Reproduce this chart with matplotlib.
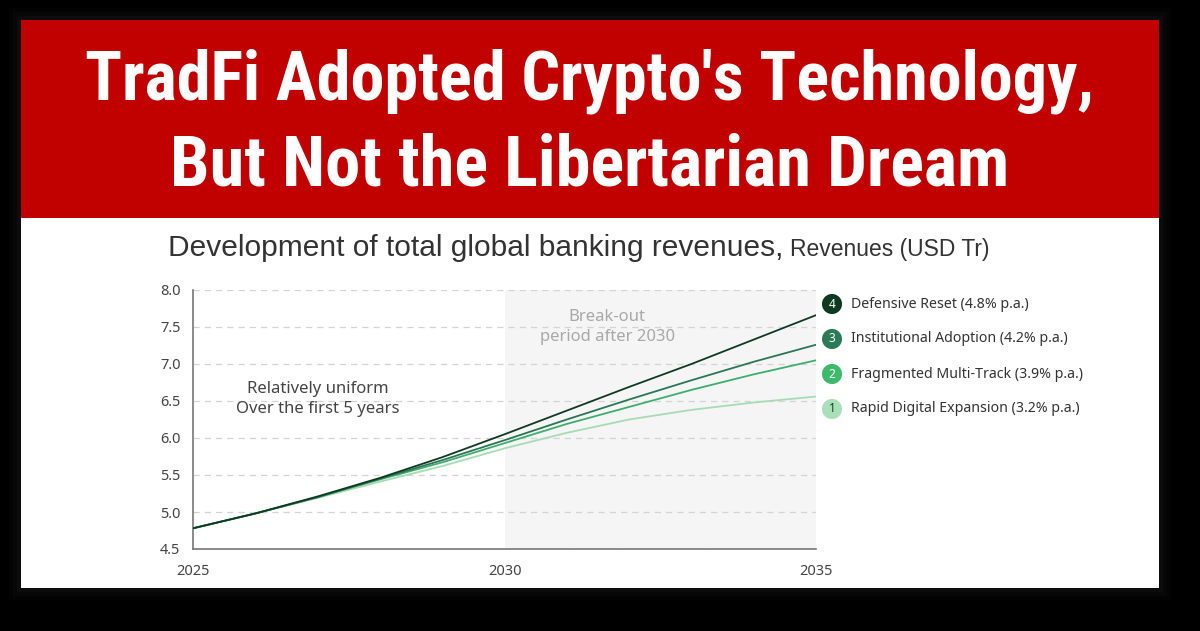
import matplotlib
matplotlib.use("Agg")
import matplotlib.pyplot as plt
from matplotlib.patches import Rectangle
from matplotlib import font_manager

# Years and revenue scenarios (USD Tr)
years = list(range(2025, 2036))
defensive_reset = [4.78, 4.98, 5.21, 5.46, 5.74, 6.05, 6.37, 6.69, 7.00, 7.33, 7.66]
institutional = [4.78, 4.98, 5.20, 5.45, 5.70, 5.97, 6.25, 6.52, 6.78, 7.03, 7.26]
fragmented = [4.78, 4.98, 5.20, 5.44, 5.67, 5.93, 6.19, 6.42, 6.65, 6.86, 7.05]
rapid_digital = [4.78, 4.98, 5.19, 5.41, 5.62, 5.86, 6.07, 6.25, 6.38, 6.48, 6.56]

series = [defensive_reset, institutional, fragmented, rapid_digital]
labels = ["Defensive Reset (4.8% p.a.)", "Institutional Adoption (4.2% p.a.)",
          "Fragmented Multi-Track (3.9% p.a.)", "Rapid Digital Expansion (3.2% p.a.)"]
badges = ["4", "3", "2", "1"]
colors = ["#0f3a22", "#2b7657", "#3fae6c", "#a6dcb3"]
badge_fc = ["#0f3a22", "#2b7a58", "#3cb96b", "#a9e0b7"]
badge_tc = ["white", "white", "white", "#1d3b2a"]

yticks = [4.5, 5.0, 5.5, 6.0, 6.5, 7.0, 7.5, 8.0]
xticks = [2025, 2030, 2035]

W, H = 1200, 631
fig = plt.figure(figsize=(12, 6.31), dpi=100, facecolor="black")


def fx(px):
    return px / W


def fy(py):
    return (H - py) / H


# soft glow around the card
for i, a in enumerate([0.025, 0.035, 0.045]):
    g = 12 - i * 4
    fig.add_artist(Rectangle((fx(21 - g), fy(588 + g)), fx(1138 + 2 * g), (568 + 2 * g) / H,
                             transform=fig.transFigure, fc="#888888", ec="none", alpha=a,
                             zorder=-10))

# card and red header
fig.add_artist(Rectangle((fx(21), fy(588)), fx(1138), 568 / H,
                         transform=fig.transFigure, fc="white", ec="none", zorder=-9))
fig.add_artist(Rectangle((fx(21), fy(218)), fx(1138), 198 / H,
                         transform=fig.transFigure, fc="#c10000", ec="none", zorder=-8))

# pick a narrow bold face for the header if one is installed
names = {f.name for f in font_manager.fontManager.ttflist}
head_font = [n for n in ["Liberation Sans Narrow", "DejaVu Sans Condensed", "Roboto Condensed",
                         "Open Sans Condensed"] if n in names] + ["DejaVu Sans"]
renderer = fig.canvas.get_renderer()
for txt, ybase, target in [("TradFi Adopted Crypto's Technology,", 100, 1010),
                           ("But Not the Libertarian Dream", 185, 840)]:
    t = fig.text(0.491, fy(ybase), txt, ha="center", va="baseline", color="white",
                 fontsize=50, fontweight="bold", fontstretch="condensed", family=head_font)
    w = t.get_window_extent(renderer).width
    t.set_fontsize(50 * target / w)

# subtitle
t1 = fig.text(fx(168), fy(256), "Development of total global banking revenues,",
              fontsize=21.5, color="#333333", family=["Liberation Sans", "DejaVu Sans"],
              va="baseline")
bb = t1.get_window_extent(renderer)
fig.text((bb.x1 + 7) / W, fy(256), "Revenues (USD Tr)", fontsize=16.5, color="#333333",
         family=["Liberation Sans", "DejaVu Sans"], va="baseline")

# chart
ax = fig.add_axes([fx(193), fy(549), fx(623), 259 / H])
ax.set_facecolor("none")
ax.axvspan(2030, 2035, color="#f5f5f5", zorder=0, lw=0)
for i in range(len(series) - 1, -1, -1):
    ax.plot(years, series[i], color=colors[i], lw=1.3, zorder=3)

ax.set_xlim(2025, 2035)
ax.set_ylim(4.5, 8.0)
ax.set_yticks(yticks)
ax.set_yticklabels([f"{v:.1f}" for v in yticks])
ax.set_xticks(xticks)
ax.set_xticklabels([str(v) for v in xticks])
ax.tick_params(length=0, labelsize=10.5, colors="#444444", pad=9)
ax.tick_params(axis="x", pad=11)
for lab in ax.get_xticklabels() + ax.get_yticklabels():
    lab.set_family(["Noto Sans", "DejaVu Sans"])
ax.grid(axis="y", ls=(0, (5, 4)), color="#d4d4d4", lw=0.9, zorder=1)
ax.set_axisbelow(True)
for s in ["top", "right"]:
    ax.spines[s].set_visible(False)
for s in ["left", "bottom"]:
    ax.spines[s].set_color("#777777")
    ax.spines[s].set_linewidth(1.2)

ax.text(2027.0, 6.53, "Relatively uniform\nOver the first 5 years", ha="center", va="center",
        fontsize=12, color="#444444", family=["Noto Sans", "DejaVu Sans"], linespacing=1.3)
ax.text(2031.65, 7.5, "Break-out\nperiod after 2030", ha="center", va="center",
        fontsize=12, color="#a8a8a8", family=["Noto Sans", "DejaVu Sans"], linespacing=1.3)

# legend with numbered badges
for i, (lab, b) in enumerate(zip(labels, badges)):
    yy = fy(304 + i * 35)
    fig.text(fx(832), yy, b, ha="center", va="center", fontsize=8.5, fontweight="bold",
             color=badge_tc[i], family=["Noto Sans", "DejaVu Sans"],
             bbox=dict(boxstyle="circle,pad=0.3", fc=badge_fc[i], ec="none"))
    fig.text(fx(851), yy, lab, ha="left", va="center", fontsize=10.2, color="#333333",
             family=["Noto Sans", "DejaVu Sans"])

fig.savefig("out.png", dpi=100, facecolor="black")
